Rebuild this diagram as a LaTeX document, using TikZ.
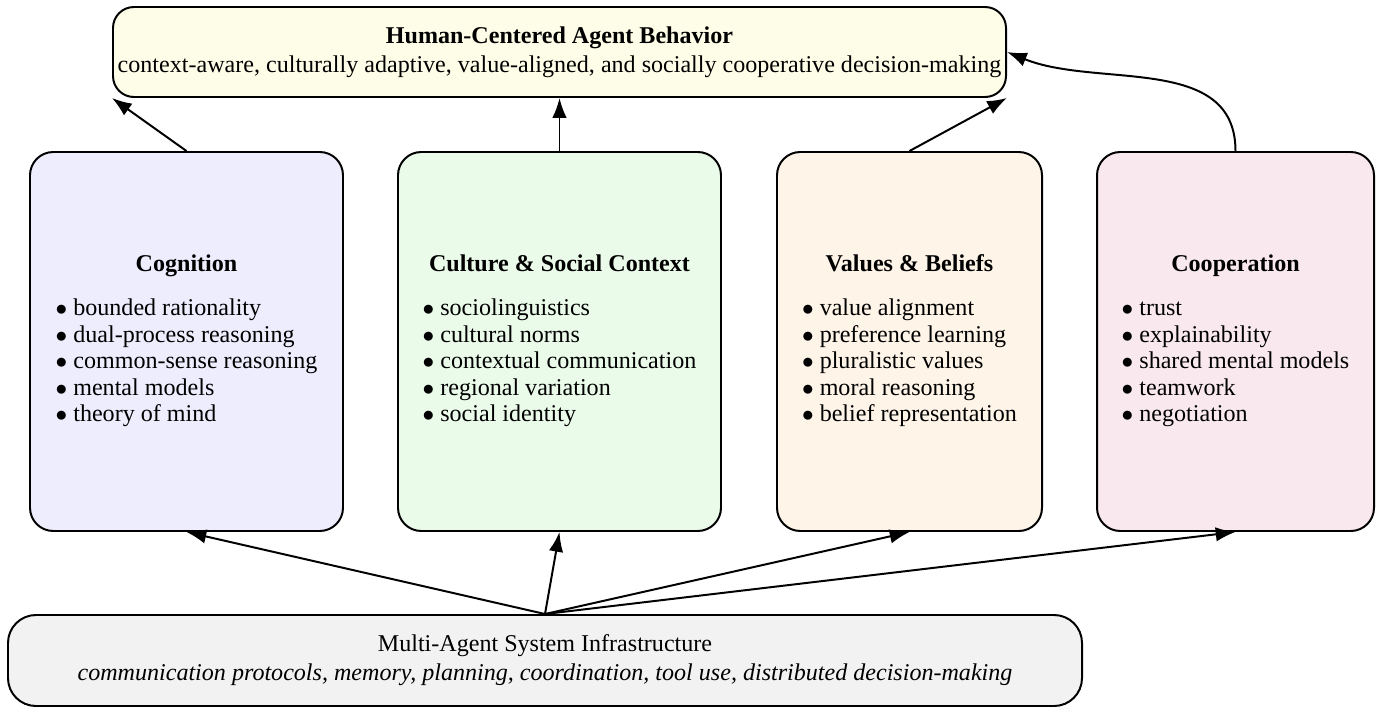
\documentclass[tikz,border=0pt]{standalone}
\usepackage{fontspec}
\setmainfont{Liberation Serif}
\usetikzlibrary{arrows.meta}
\def\pxu{0.43pt}
\definecolor{topfill}{HTML}{FEFDE8}
\definecolor{cogfill}{HTML}{EDEDFE}
\definecolor{culfill}{HTML}{EAFBEA}
\definecolor{valfill}{HTML}{FEF4E8}
\definecolor{coopfill}{HTML}{F9E9EF}
\definecolor{botfill}{HTML}{F2F2F2}
\tikzset{
  card/.style={draw=black, line width=0.85pt, rounded corners=10pt, inner sep=0pt, align=center,
    minimum height=379*\pxu, font=\fontsize{10.35}{11.4}\selectfont},
  banner/.style={draw=black, line width=0.85pt, rounded corners=9pt, inner sep=0pt, align=center,
    font=\fontsize{10.35}{11.4}\selectfont},
  conn/.style={line width=0.85pt, -{Latex[length=8.5pt,width=6.2pt]}}
}
\newcommand{\itemlist}[1]{\begin{tabular}{@{}l@{}}#1\end{tabular}}
\begin{document}
\begin{tikzpicture}[x=\pxu, y=-\pxu]
\useasboundingbox (0,0) rectangle (1376,707);
\node[banner, fill=topfill, minimum width=893*\pxu, minimum height=90*\pxu] (top) at (559.5,52)
  {\textbf{Human-Centered Agent Behavior}\\[1.1pt]
   context-aware, culturally adaptive, value-aligned, and socially cooperative decision-making};
\node[card, fill=cogfill, minimum width=313*\pxu] (cog) at (186.5,341.5)
  {\textbf{Cognition}\strut\\[6.5pt]
   \itemlist{$\bullet$ bounded rationality\\ $\bullet$ dual-process reasoning\\ $\bullet$ common-sense reasoning\\ $\bullet$ mental models\\ $\bullet$ theory of mind}};
\node[card, fill=culfill, minimum width=323*\pxu] (cul) at (559.5,341.5)
  {\textbf{Culture \& Social Context}\strut\\[6.5pt]
   \itemlist{$\bullet$ sociolinguistics\\ $\bullet$ cultural norms\\ $\bullet$ contextual communication\\ $\bullet$ regional variation\\ $\bullet$ social identity}};
\node[card, fill=valfill, minimum width=265*\pxu] (val) at (909.5,341.5)
  {\textbf{Values \& Beliefs}\strut\\[6.5pt]
   \itemlist{$\bullet$ value alignment\\ $\bullet$ preference learning\\ $\bullet$ pluralistic values\\ $\bullet$ moral reasoning\\ $\bullet$ belief representation}};
\node[card, fill=coopfill, minimum width=277*\pxu] (coop) at (1235.5,341.5)
  {\textbf{Cooperation}\strut\\[6.5pt]
   \itemlist{$\bullet$ trust\\ $\bullet$ explainability\\ $\bullet$ shared mental models\\ $\bullet$ teamwork\\ $\bullet$ negotiation}};
\node[banner, fill=botfill, rounded corners=12pt, minimum width=1074*\pxu, minimum height=91*\pxu] (bot) at (545,660.5)
  {Multi-Agent System Infrastructure\\[1.1pt]
   \textit{communication protocols, memory, planning, coordination, tool use, distributed decision-making}};
% upward arrows to top
\draw[conn] (cog.north) -- (top.south west);
\draw[conn] (cul.north) -- (top.south);
\draw[conn] (val.north) -- (top.south east);
\draw[conn] (coop.north) to[out=90, in=-22] (top.east);
% infrastructure arrows
\draw[conn] (bot.north) -- (cog.south);
\draw[conn] (bot.north) -- (cul.south);
\draw[conn] (bot.north) -- (val.south);
\draw[conn] (bot.north) -- (coop.south);
\end{tikzpicture}
\end{document}
